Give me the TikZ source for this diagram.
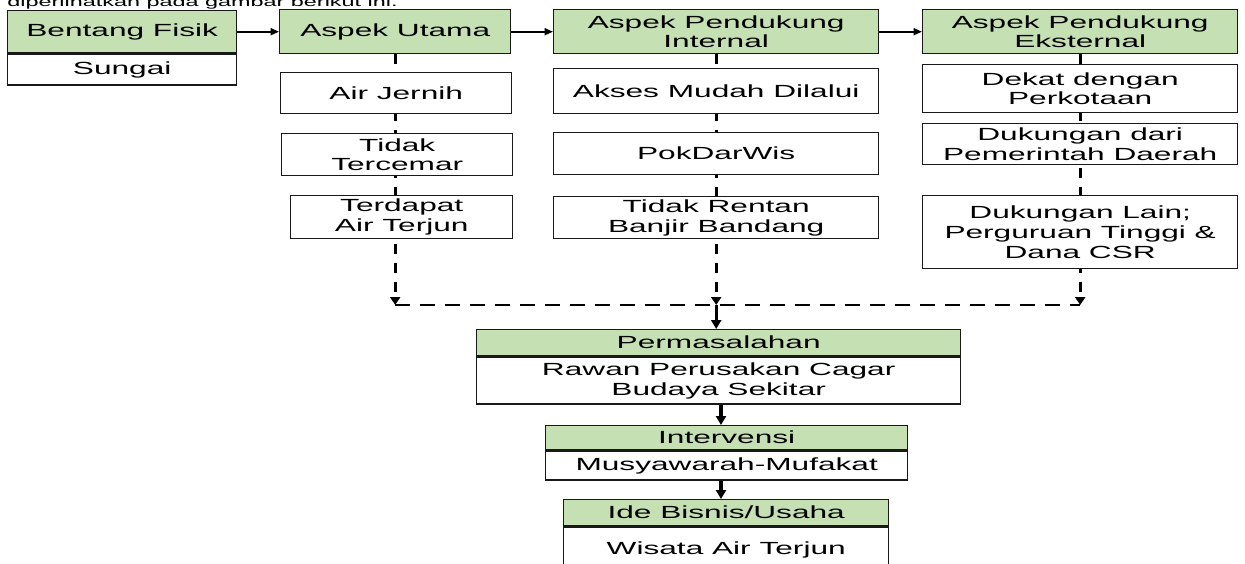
\documentclass[tikz,border=0pt]{standalone}
\usepackage{fontspec}
\setmainfont{Liberation Sans}[FakeStretch=1.8]
\usetikzlibrary{arrows.meta, positioning, backgrounds}

\definecolor{hdrgreen}{HTML}{C5E0B3}

\tikzset{
  box/.style={draw=black!90, line width=0.8pt, fill=white, inner sep=0pt, align=center,
    anchor=north west, font=\fontsize{10}{11.3}\selectfont},
  head/.style={box, fill=hdrgreen},
  sz/.style 2 args={minimum width=#1*0.2mm, minimum height=#2*0.2mm},
  flow/.style={-{Triangle[length=1.7mm,width=1.4mm]}, line width=1.1pt},
  down/.style={-{Triangle[length=1.8mm,width=2mm]}, line width=1.8pt},
  link/.style={-{Triangle[length=1.6mm,width=2mm]}, line width=1.8pt, dash pattern=on 2mm off 1.8mm},
  joint/.style={line width=1.2pt, dash pattern=on 3mm off 2mm},
}

\begin{document}
\begin{tikzpicture}[x=0.2mm, y=-0.2mm]
	\path[use as bounding box, clip] (0,0) rectangle (1245,563);
	
	% Kalimat pengantar (terpotong)
	\node[anchor=base west, inner sep=0pt, font=\fontsize{7.4}{9}\selectfont] (intro) at (7,6.5) {diperlihatkan pada gambar berikut ini.};
	
	% Baris atas
	\node[head, sz={229}{42}] (bentang) at (7,10) {Bentang Fisik};
	\node[box, sz={229}{31}] (sungai) at (bentang.south west) {Sungai};
	\node[head, sz={231}{44}] (utama) at (279,9) {Aspek Utama};
	\node[head, sz={325}{44}] (internal) at (553,9) {Aspek Pendukung\\Internal};
	\node[head, sz={315}{44}] (eksternal) at (922,9) {Aspek Pendukung\\Eksternal};
	
	% Aspek utama
	\node[box, sz={231}{41}] (jernih) at (280,72) {Air Jernih};
	\node[box, sz={231}{42}] (tercemar) at (281,133) {Tidak\\Tercemar};
	\node[box, sz={222}{43}] (terjun) at (290,195) {Terdapat\\Air Terjun};
	
	% Aspek pendukung internal
	\node[box, sz={325}{45}] (akses) at (553,68) {Akses Mudah Dilalui};
	\node[box, sz={325}{42}] (pokdarwis) at (553,132) {PokDarWis};
	\node[box, sz={325}{42}] (rentan) at (553,196) {Tidak Rentan\\Banjir Bandang};
	
	% Aspek pendukung eksternal
	\node[box, sz={315}{48}] (kota) at (922,64) {Dekat dengan\\Perkotaan};
	\node[box, sz={315}{41}] (pemda) at (922,123) {Dukungan dari\\Pemerintah Daerah};
	\node[box, sz={315}{73}] (lain) at (922,195) {Dukungan Lain;\\Perguruan Tinggi \&\\Dana CSR};
	
	% Alur bawah
	\node[head, sz={484}{26}] (masalah) at (476,329) {Permasalahan};
	\node[box, sz={484}{47}] (rawan) at (masalah.south west) {Rawan Perusakan Cagar\\Budaya Sekitar};
	\node[head, sz={362}{24}] (intervensi) at (545,425) {Intervensi};
	\node[box, sz={362}{29}] (mufakat) at (intervensi.south west) {Musyawarah-Mufakat};
	\node[head, sz={325}{26}] (ide) at (563,499) {Ide Bisnis/Usaha};
	\node[box, sz={325}{46}] (wisata) at (ide.south west) {Wisata Air Terjun};
	
	\coordinate (jointline) at (0,305);
	\coordinate (spine) at (721,0);
	
	% Panah atas
	\draw[flow] (bentang.east) -- (utama.west);
	\draw[flow] (utama.east) -- (internal.west);
	\draw[flow] (internal.east) -- (eksternal.west);
	
	% Garis putus-putus
	\begin{scope}[on background layer]
		\draw[link] (utama.south) -- (utama.south |- jointline);
		\draw[link] (internal.south) -- (internal.south |- jointline);
		\draw[link] (eksternal.south) -- (eksternal.south |- jointline);
		\draw[joint] (utama.south |- jointline) -- (eksternal.south |- jointline);
	\end{scope}
	
	\draw[down] (internal.south |- jointline) -- (internal.south |- masalah.north);
	\draw[down] (spine |- rawan.south) -- (spine |- intervensi.north);
	\draw[down] (spine |- mufakat.south) -- (spine |- ide.north);
\end{tikzpicture}
\end{document}
